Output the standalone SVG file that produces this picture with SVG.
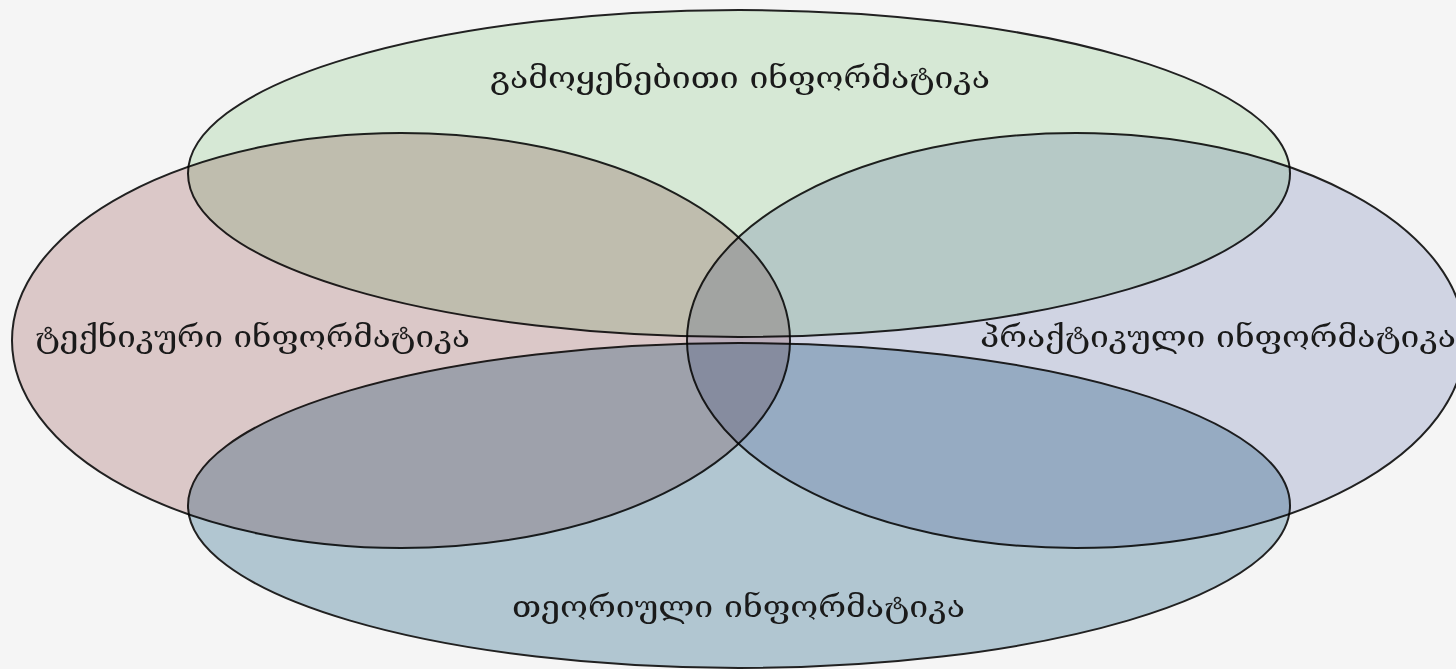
<svg xmlns="http://www.w3.org/2000/svg" width="1456" height="669" viewBox="0 0 1456 669">
<style>
.shape{stroke:#222;stroke-width:2;mix-blend-mode:multiply}
.lbl{font-family:"DejaVu Serif","DejaVu Sans",serif;font-size:30px;fill:#1a1a1a}
</style>
<rect x="0" y="0" width="1456" height="669" fill="#f5f5f5"/>
<g id="connectors"></g>
<g id="node-applied">
<ellipse class="shape" cx="739" cy="173.5" rx="551" ry="163.5" fill="#dff2de"/>
</g>
<g id="node-technical">
<ellipse class="shape" cx="401" cy="340.5" rx="389" ry="207.5" fill="#e4d0d0"/>
</g>
<g id="node-practical">
<ellipse class="shape" cx="1076" cy="340.5" rx="389" ry="207.5" fill="#d9dded"/>
</g>
<g id="node-theoretical">
<ellipse class="shape" cx="739" cy="505.5" rx="551" ry="162.5" fill="#b8ceda"/>
</g>
<g id="labels">
<text class="lbl" x="490" y="88" textLength="500" lengthAdjust="spacingAndGlyphs">გამოყენებითი ინფორმატიკა</text>
<text class="lbl" x="35" y="347" textLength="435" lengthAdjust="spacingAndGlyphs">ტექნიკური ინფორმატიკა</text>
<text class="lbl" x="980" y="347" textLength="476" lengthAdjust="spacingAndGlyphs">პრაქტიკული ინფორმატიკა</text>
<text class="lbl" x="512" y="617" textLength="453" lengthAdjust="spacingAndGlyphs">თეორიული ინფორმატიკა</text>
</g>
</svg>
